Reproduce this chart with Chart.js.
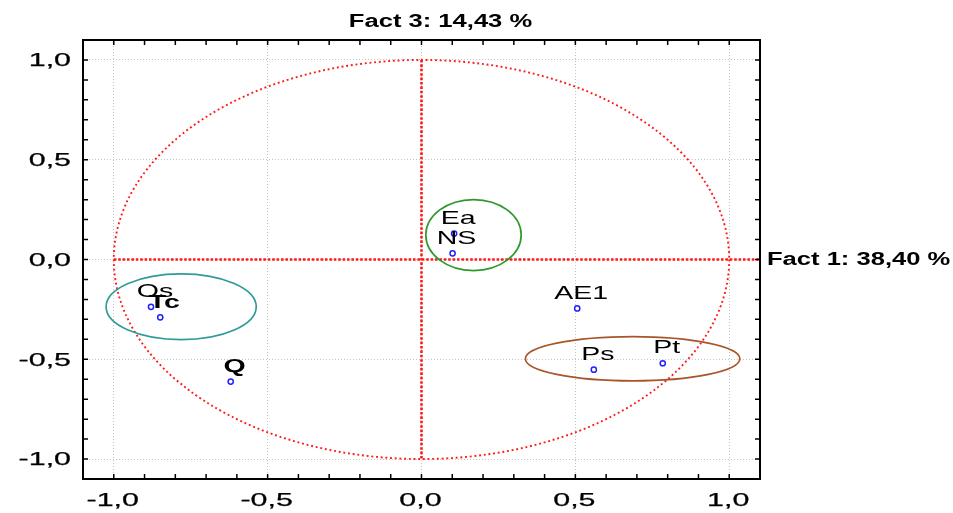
<!DOCTYPE html>
<html>
<head>
<meta charset="utf-8">
<script src="https://cdn.jsdelivr.net/npm/chart.js@4.4.0/dist/chart.umd.min.js"></script>
<style>
  html, body { margin: 0; padding: 0; background: #fff; }
</style>
</head>
<body>
<canvas id="FactorChart" width="953" height="513"></canvas>
<script>
const pointLabels = ['Ea', 'NS', 'Os', 'Tc', 'Q', 'AE1', 'Ps', 'Pt'];
const fact1Values = [0.106, 0.101, -0.879, -0.849, -0.62, 0.506, 0.56, 0.784];
const fact3Values = [0.13, 0.031, -0.237, -0.29, -0.612, -0.245, -0.552, -0.52];
const boldLabels = ['Tc', 'Q'];

// groups circled on the plot
const groupCenterX = [-0.781, 0.169, 0.686];
const groupCenterY = [-0.237, 0.1225, -0.4975];
const groupRadiusX = [0.244, 0.155, 0.3485];
const groupRadiusY = [0.165, 0.178, 0.111];
const groupColors = ['#2f9c98', '#2e9a2e', '#a9552a'];

const majorTicks = [-1.0, -0.5, 0.0, 0.5, 1.0];
const tickLabels = ['-1,0', '-0,5', '0,0', '0,5', '1,0'];
const xTitle = 'Fact 1: 38,40 %';
const yTitle = 'Fact 3: 14,43 %';

// old Statistica output is stretched sideways, so text gets scaled in x
const stretchText = (ctx, text, x, y, font, sx, align, stroke) => {
  ctx.save();
  ctx.font = font;
  ctx.fillStyle = '#000';
  ctx.strokeStyle = '#000';
  ctx.textBaseline = 'middle';
  ctx.textAlign = 'left';
  const w = ctx.measureText(text).width * sx;
  let left = x;
  if (align === 'center') left = x - w / 2;
  if (align === 'right') left = x - w;
  ctx.translate(left, y);
  ctx.scale(sx, 1);
  ctx.fillText(text, 0, 0);
  if (stroke) {
    ctx.lineWidth = stroke;
    ctx.strokeText(text, 0, 0);
  }
  ctx.restore();
};

const decorPlugin = {
  id: 'decor',
  beforeDatasetsDraw(chart) {
    const { ctx, chartArea: area, scales: { x, y } } = chart;
    const x0 = x.getPixelForValue(0);
    const y0 = y.getPixelForValue(0);
    ctx.save();
    ctx.beginPath();
    ctx.rect(area.left, area.top, area.width, area.height);
    ctx.clip();

    // unit circle and the zero lines
    ctx.strokeStyle = '#ff1a1a';
    ctx.lineWidth = 1.9;
    ctx.setLineDash([1.9, 2.8]);
    ctx.beginPath();
    ctx.ellipse(x0, y0, x.getPixelForValue(1) - x0, y0 - y.getPixelForValue(1), 0, 0, Math.PI * 2);
    ctx.stroke();

    ctx.lineWidth = 2.6;
    ctx.setLineDash([2.6, 1.8]);
    ctx.beginPath();
    ctx.moveTo(x0, y.getPixelForValue(1));
    ctx.lineTo(x0, y.getPixelForValue(-1));
    ctx.moveTo(x.getPixelForValue(-1), y0);
    ctx.lineTo(area.right, y0);
    ctx.stroke();

    ctx.setLineDash([]);
    ctx.lineWidth = 1.7;
    groupCenterX.forEach((cx, i) => {
      const px = x.getPixelForValue(cx);
      const py = y.getPixelForValue(groupCenterY[i]);
      ctx.strokeStyle = groupColors[i];
      ctx.beginPath();
      ctx.ellipse(px, py,
        x.getPixelForValue(cx + groupRadiusX[i]) - px,
        py - y.getPixelForValue(groupCenterY[i] + groupRadiusY[i]),
        0, 0, Math.PI * 2);
      ctx.stroke();
    });
    ctx.restore();
  },
  afterDatasetsDraw(chart) {
    const { ctx, chartArea: area, scales: { x, y } } = chart;

    pointLabels.forEach((label, i) => {
      const bold = boldLabels.includes(label);
      stretchText(ctx, label,
        x.getPixelForValue(fact1Values[i]) + 4,
        y.getPixelForValue(fact3Values[i]) - 15,
        (bold ? 'bold ' : '') + '19px "Liberation Sans"', 1.5, 'center');
    });

    // frame with inward ticks on all sides
    ctx.save();
    ctx.strokeStyle = '#000';
    ctx.lineWidth = 2;
    ctx.strokeRect(area.left, area.top, area.width, area.height);
    ctx.lineWidth = 1.5;
    ctx.beginPath();
    for (let i = -10; i <= 10; i++) {
      const px = x.getPixelForValue(i / 10);
      const py = y.getPixelForValue(i / 10);
      ctx.moveTo(px, area.top); ctx.lineTo(px, area.top + 5);
      ctx.moveTo(px, area.bottom); ctx.lineTo(px, area.bottom - 5);
      ctx.moveTo(area.left, py); ctx.lineTo(area.left + 5, py);
      ctx.moveTo(area.right, py); ctx.lineTo(area.right - 5, py);
    }
    ctx.stroke();
    ctx.restore();

    const tickFont = '19px "Liberation Sans"';
    majorTicks.forEach((v, i) => {
      stretchText(ctx, tickLabels[i], area.left - 12, y.getPixelForValue(v) + 1, tickFont, 1.6, 'right', 0.25);
      stretchText(ctx, tickLabels[i], x.getPixelForValue(v) - 1, area.bottom + 22, tickFont, 1.6, 'center', 0.25);
    });

    const titleFont = 'bold 18px "Liberation Sans"';
    stretchText(ctx, yTitle, (area.left + area.right) / 2 + 19, 22, titleFont, 1.42, 'center');
    stretchText(ctx, xTitle, area.right + 7, y.getPixelForValue(0) + 1, titleFont, 1.42, 'left');
  }
};

const axis = (extra) => Object.assign({
  type: 'linear',
  min: -1.1,
  max: 1.1,
  afterBuildTicks: (scale) => { scale.ticks = majorTicks.map((v) => ({ value: v })); },
  ticks: { display: false },
  grid: { color: '#c4c4c4', lineWidth: 1, drawTicks: false },
  border: { display: false, dash: [1, 2] },
}, extra);

new Chart(document.getElementById('FactorChart'), {
  type: 'scatter',
  data: {
    labels: pointLabels,
    datasets: [{
      data: fact1Values.map((v, i) => ({ x: v, y: fact3Values[i] })),
      pointRadius: 2.6,
      pointBorderWidth: 1.5,
      pointBorderColor: '#1f1fff',
      pointBackgroundColor: '#ffffff',
    }],
  },
  options: {
    responsive: false,
    animation: false,
    layout: { padding: { left: 83, top: 40, right: 193, bottom: 34 } },
    plugins: { legend: { display: false }, tooltip: { enabled: false } },
    scales: { x: axis({}), y: axis({}) },
  },
  plugins: [decorPlugin],
});
</script>
</body>
</html>
